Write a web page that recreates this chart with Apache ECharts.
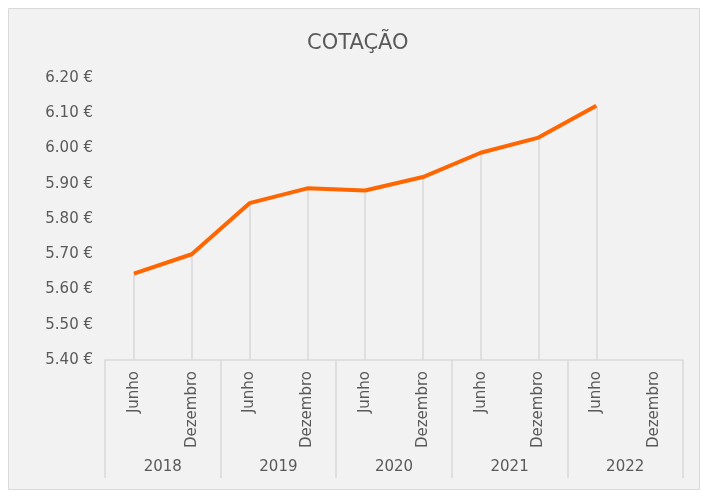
<!DOCTYPE html>
<html>
<head>
<meta charset="utf-8">
<script src="https://cdn.jsdelivr.net/npm/echarts@6/dist/echarts.min.js"></script>
<style>
html,body{margin:0;padding:0;background:#fff;}
#c{width:709px;height:497px;}
</style>
</head>
<body>
<div id="c"></div>
<script>
const months = ["Junho","Dezembro","Junho","Dezembro","Junho","Dezembro","Junho","Dezembro","Junho","Dezembro"];
const years = ["2018","2019","2020","2021","2022"];
const cotacao = [5.645, 5.700, 5.845, 5.887, 5.881, 5.919, 5.988, 6.031, 6.121, null];
const yMin = 5.4, yMax = 6.2, yStep = 0.1;

const dropLines = [];
cotacao.forEach((v, i) => {
  if (v !== null) dropLines.push([{coord:[i, v]}, {coord:[i, yMin]}]);
});

const FONT = 'DejaVu Sans';
const TXT = '#595959';

const chart = echarts.init(document.getElementById('c'));
chart.setOption({
  backgroundColor: '#ffffff',
  animation: false,
  graphic: [{
    type: 'rect', z: -10, silent: true,
    shape: {x: 8.5, y: 8.5, width: 691, height: 481},
    style: {fill: '#f2f2f2', stroke: '#d9d9d9', lineWidth: 1}
  }],
  title: {
    text: 'COTAÇÃO', left: 307, top: 33, padding: 0,
    textStyle: {fontFamily: FONT, fontSize: 21, fontWeight: 'normal', color: TXT}
  },
  grid: {left: 105, right: 26, top: 78, bottom: 137},
  xAxis: [{
    type: 'category', data: months, position: 'bottom',
    boundaryGap: true,
    axisLine: {show: true, lineStyle: {color: '#d9d9d9', width: 1.5}},
    axisTick: {show: false},
    axisLabel: {rotate: 90, margin: 11, fontFamily: FONT, fontSize: 15, color: TXT, interval: 0}
  }, {
    type: 'category', data: years, position: 'bottom',
    boundaryGap: true,
    axisLine: {show: false},
    axisTick: {show: true, length: 118, inside: false, interval: 0, lineStyle: {color: '#d9d9d9', width: 1.5}},
    axisLabel: {margin: 100, fontFamily: FONT, fontSize: 15, color: TXT, interval: 0}
  }],
  yAxis: {
    type: 'value', min: yMin, max: yMax, interval: yStep,
    axisLine: {show: false}, axisTick: {show: false}, splitLine: {show: false},
    axisLabel: {
      margin: 12, fontFamily: FONT, fontSize: 15, color: TXT,
      formatter: v => v.toFixed(2) + ' €'
    }
  },
  series: [{
    type: 'line', data: cotacao, xAxisIndex: 0,
    showSymbol: false, symbol: 'none',
    lineStyle: {color: '#ff6600', width: 4},
    z: 5,
    markLine: {
      silent: true, symbol: 'none', animation: false,
      label: {show: false},
      lineStyle: {color: '#d9d9d9', width: 1.5, type: 'solid'},
      emphasis: {disabled: true},
      data: dropLines,
      z: 1
    }
  }]
});
</script>
</body>
</html>
